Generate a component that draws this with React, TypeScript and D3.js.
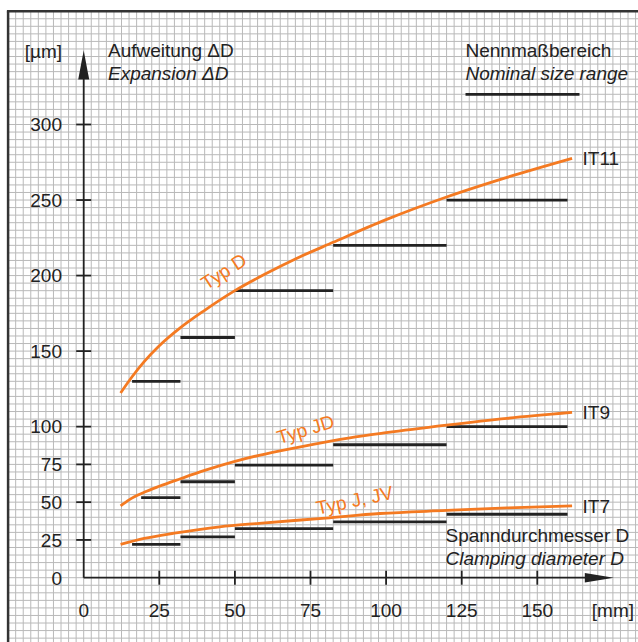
import React from 'react';
import * as d3 from 'd3';

const W = 638;
const H = 642;

const xTicks = [0, 25, 50, 75, 100, 125, 150];
const yTicks = [0, 25, 50, 75, 100, 150, 200, 250, 300];

// nominal size ranges [mm]
const rangeStarts = [16, 32, 50, 82.5, 120];
const rangeEnds = [32, 50, 82.5, 120, 160];
const it9Starts = [19, 32, 50, 82.5, 120];

// tolerance values [µm]
const it11 = [130, 159, 190, 220, 250];
const it9 = [53, 63.5, 74.5, 88, 100];
const it7 = [22, 27, 32.5, 37, 42];

// expansion curves
const typDx = [12.2, 16, 20, 25, 32, 40, 50, 60, 70, 82.5, 100, 120, 140, 161.5];
const typDy = [122.3, 133, 143, 153.5, 165.5, 177, 190, 201, 211, 222, 237, 252, 265, 277.6];
const typJDx = [12.2, 15, 20, 25, 32, 40, 50, 58, 70, 88, 100, 120, 140, 161.5];
const typJDy = [47.5, 51.5, 56.5, 60.5, 65.5, 71, 77, 81, 86, 92.6, 96, 101, 105.5, 109.4];
const typJx = [12.2, 20, 30, 45, 58, 80, 98, 120, 140, 161.5];
const typJy = [22, 26, 29.5, 33.7, 36, 39.5, 42.5, 44.5, 46.2, 47.6];

const ORANGE = '#f47a22';
const INK = '#222';
const FONT = '"Liberation Sans", Arial, Helvetica, sans-serif';

export default function App() {
  const x = d3.scaleLinear().domain([0, 150]).range([83.7, 537.3]);
  const y = d3.scaleLinear().domain([0, 300]).range([577.7, 124.5]);

  const frameX = x(-25);
  const frameY = y(375);

  const gridX = d3.range(-25, 186, 2.5);
  const gridY = d3.range(-45, 376, 5);

  const line = d3
    .line<[number, number]>()
    .x((d) => x(d[0]))
    .y((d) => y(d[1]))
    .curve(d3.curveMonotoneX);

  const zip = (a: number[], b: number[]) => a.map((v, i) => [v, b[i]] as [number, number]);

  const curves = [
    { pts: zip(typDx, typDy) },
    { pts: zip(typJDx, typJDy) },
    { pts: zip(typJx, typJy) },
  ];

  const segSets = [
    { starts: rangeStarts, vals: it11 },
    { starts: it9Starts, vals: it9 },
    { starts: rangeStarts, vals: it7 },
  ];

  const x0 = x(0);
  const y0 = y(0);
  const yTip = y(349);
  const xTip = x(175.3);
  const arrowLen = 29;
  const arrowHalf = 5.5;

  const ts = 19;

  return (
    <svg
      width={W}
      height={H}
      style={{ position: 'absolute', left: 0, top: 0, display: 'block', background: '#fff' }}
      fontFamily={FONT}
    >
      {/* grid */}
      <g stroke="#b9b9b9" strokeWidth={1}>
        {gridX.map((g) => (
          <line key={'gx' + g} x1={x(g)} x2={x(g)} y1={frameY} y2={H} />
        ))}
        {gridY.map((g) => (
          <line key={'gy' + g} x1={frameX} x2={W} y1={y(g)} y2={y(g)} />
        ))}
      </g>
      {/* frame */}
      <line x1={frameX - 1.2} x2={W} y1={frameY} y2={frameY} stroke="#333" strokeWidth={2.5} />
      <line x1={frameX} x2={frameX} y1={frameY} y2={H} stroke="#333" strokeWidth={2.5} />

      {/* axes */}
      <line x1={x0} x2={x0} y1={y0} y2={yTip + arrowLen - 2} stroke={INK} strokeWidth={1.8} />
      <path
        d={`M${x0},${yTip} L${x0 + arrowHalf},${yTip + arrowLen} L${x0 - arrowHalf},${yTip + arrowLen} Z`}
        fill={INK}
      />
      <line x1={x0} x2={xTip - arrowLen + 2} y1={y0} y2={y0} stroke={INK} strokeWidth={1.8} />
      <path
        d={`M${xTip},${y0} L${xTip - arrowLen},${y0 - arrowHalf + 0.8} L${xTip - arrowLen},${y0 + arrowHalf - 0.8} Z`}
        fill={INK}
      />

      {/* ticks */}
      {yTicks.map((t) => (
        <g key={'yt' + t}>
          {t !== 0 && (
            <line x1={x0 - 7.5} x2={x0 + 7.5} y1={y(t)} y2={y(t)} stroke={INK} strokeWidth={1.8} />
          )}
          <text x={62} y={y(t)} dy="0.36em" textAnchor="end" fontSize={ts} fill={INK}>
            {t}
          </text>
        </g>
      ))}
      {xTicks.map((t) => (
        <g key={'xt' + t}>
          {t !== 0 && (
            <line x1={x(t)} x2={x(t)} y1={y0 - 7} y2={y0 + 7} stroke={INK} strokeWidth={1.8} />
          )}
          <text x={x(t)} y={616.5} textAnchor="middle" fontSize={ts} fill={INK}>
            {t}
          </text>
        </g>
      ))}
      <text x={x(175)} y={616.5} textAnchor="middle" fontSize={ts} fill={INK}>
        [mm]
      </text>
      <text x={62} y={58} textAnchor="end" fontSize={ts} fill={INK}>
        [µm]
      </text>

      {/* axis titles */}
      <text x={108} y={57} fontSize={ts} fill={INK}>
        Aufweitung ΔD
      </text>
      <text x={108} y={80} fontSize={ts} fill={INK} fontStyle="italic">
        Expansion ΔD
      </text>
      <text x={445.5} y={541.5} fontSize={ts} fill={INK}>
        Spanndurchmesser D
      </text>
      <text x={445.5} y={565} fontSize={ts} fill={INK} fontStyle="italic">
        Clamping diameter D
      </text>

      {/* legend */}
      <text x={465.5} y={57} fontSize={ts} fill={INK}>
        Nennmaßbereich
      </text>
      <text x={465.5} y={80} fontSize={ts} fill={INK} fontStyle="italic">
        Nominal size range
      </text>
      <line x1={465.5} x2={579.5} y1={94.3} y2={94.3} stroke={INK} strokeWidth={2.8} />

      {/* nominal range segments */}
      {segSets.map((s, si) =>
        s.vals.map((v, i) => (
          <line
            key={'seg' + si + '-' + i}
            x1={x(s.starts[i])}
            x2={x(rangeEnds[i])}
            y1={y(v)}
            y2={y(v)}
            stroke={INK}
            strokeWidth={2.8}
          />
        ))
      )}

      {/* curves */}
      {curves.map((c, i) => (
        <path key={'c' + i} d={line(c.pts) || ''} fill="none" stroke={ORANGE} strokeWidth={2.8} />
      ))}

      {/* curve labels */}
      <text
        transform={`translate(${x(47.5)},${y(199)}) rotate(-33)`}
        textAnchor="middle"
        fontSize={ts}
        fill={ORANGE}
      >
        Typ D
      </text>
      <text
        transform={`translate(${x(74)},${y(94)}) rotate(-17)`}
        textAnchor="middle"
        fontSize={ts}
        fill={ORANGE}
      >
        Typ JD
      </text>
      <text
        transform={`translate(${x(90)},${y(47)}) rotate(-12)`}
        textAnchor="middle"
        fontSize={ts}
        fill={ORANGE}
      >
        Typ J, JV
      </text>

      {/* IT labels */}
      <text x={582.5} y={y(277.6)} dy="0.36em" fontSize={ts} fill={INK}>
        IT11
      </text>
      <text x={582.5} y={y(109.5)} dy="0.36em" fontSize={ts} fill={INK}>
        IT9
      </text>
      <text x={582.5} y={y(47.5)} dy="0.36em" fontSize={ts} fill={INK}>
        IT7
      </text>
    </svg>
  );
}
